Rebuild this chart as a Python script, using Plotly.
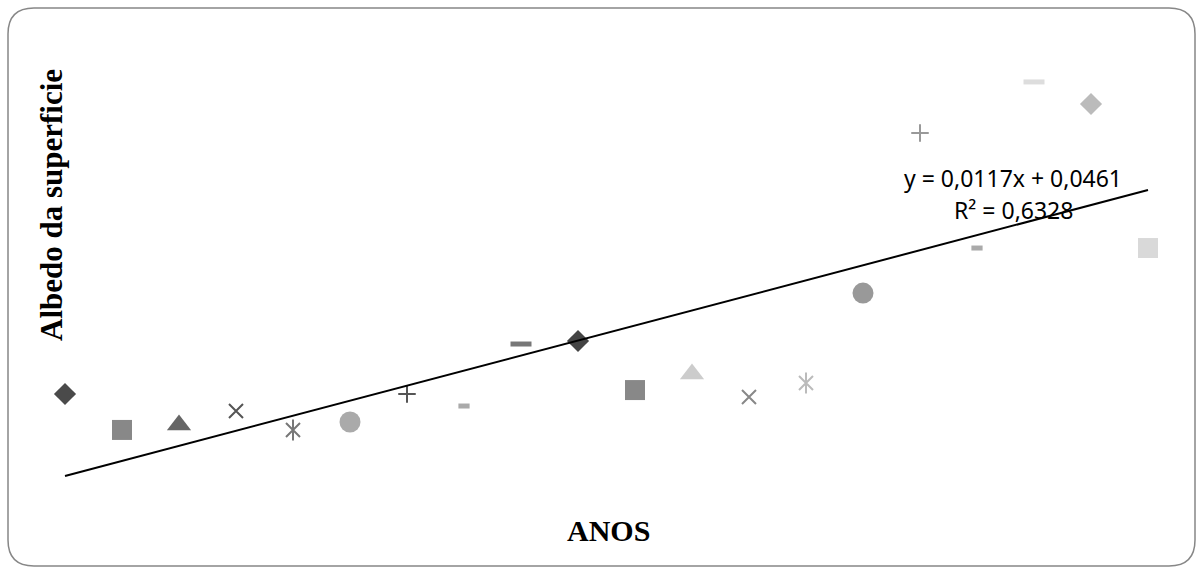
import plotly.graph_objects as go

W, H = 1202, 573

# ---- data ----
anos = list(range(1, 21))
albedo = [0.1215, 0.0936, 0.0974, 0.1083, 0.0936, 0.0998, 0.1215, 0.1122, 0.1604, 0.1627,
          0.1246, 0.1371, 0.1192, 0.1301, 0.2000, 0.3244, 0.2350, 0.3641, 0.3470, 0.2350]
marker_kind = ["diamond", "square", "triangle", "x", "star", "circle", "plus", "sdash", "ldash",
               "diamond", "square", "triangle", "x", "star", "circle", "plus", "sdash", "ldash",
               "diamond", "square"]
marker_color = ["#4a4a4a", "#888888", "#666666", "#555555", "#777777", "#aaaaaa", "#555555", "#aaaaaa",
                "#777777", "#444444", "#888888", "#cccccc", "#888888", "#bbbbbb", "#999999", "#999999",
                "#aaaaaa", "#dddddd", "#bbbbbb", "#d9d9d9"]
slope, intercept = 0.0117, 0.0461
eq_text = "y = 0,0117x + 0,0461"
r2_text = "R² = 0,6328"

fig = go.Figure()

filled = {"diamond": ("diamond", 17), "square": ("square", 20), "triangle": ("triangle-up", 21),
          "circle": ("circle", 21)}
lined = {"x": [("x-thin-open", 14, 2)], "plus": [("cross-thin-open", 12.5, 2)],
         "star": [("x-thin-open", 14, 2), ("line-ns-open", 15, 2)],
         "sdash": [("line-ew-open", 8, 5)], "ldash": [("line-ew-open", 15, 5)]}

for xv, yv, k, c in zip(anos, albedo, marker_kind, marker_color):
    if k in filled:
        sym, sz = filled[k]
        fig.add_trace(go.Scatter(x=[xv], y=[yv], mode="markers", showlegend=False,
                                 marker=dict(symbol=sym, size=sz, color=c, line=dict(width=0))))
    else:
        for sym, sz, lw in lined[k]:
            fig.add_trace(go.Scatter(x=[xv], y=[yv], mode="markers", showlegend=False,
                                     marker=dict(symbol=sym, size=sz, color=c,
                                                 line=dict(width=lw, color=c))))

# trendline
tx = [anos[0], anos[-1]]
ty = [slope * v + intercept for v in tx]
fig.add_trace(go.Scatter(x=tx, y=ty, mode="lines", showlegend=False,
                         line=dict(color="black", width=2)))

def px(xp):
    return xp / W

def py(yp):
    return 1 - yp / H

# rounded border
x0, y0, x1, y1, r = 8, 8, 1195, 566, 26
path = (f"M {px(x0+r)},{py(y0)} L {px(x1-r)},{py(y0)} "
        f"Q {px(x1)},{py(y0)} {px(x1)},{py(y0+r)} L {px(x1)},{py(y1-r)} "
        f"Q {px(x1)},{py(y1)} {px(x1-r)},{py(y1)} L {px(x0+r)},{py(y1)} "
        f"Q {px(x0)},{py(y1)} {px(x0)},{py(y1-r)} L {px(x0)},{py(y0+r)} "
        f"Q {px(x0)},{py(y0)} {px(x0+r)},{py(y0)} Z")
fig.add_shape(type="path", path=path, xref="paper", yref="paper",
              line=dict(color="#878787", width=1.5))

serif = "Liberation Serif, Times New Roman, serif"
fig.add_annotation(x=px(51), y=py(205), xref="paper", yref="paper", text="<b>Albedo da superficie</b>",
                   textangle=-90, showarrow=False, xanchor="center", yanchor="middle",
                   font=dict(family=serif, size=31, color="black"))
fig.add_annotation(x=px(608), y=py(530), xref="paper", yref="paper", text="<b>ANOS</b>",
                   showarrow=False, xanchor="center", yanchor="middle",
                   font=dict(family=serif, size=30, color="black"))

sans = "Noto Sans, Open Sans, sans-serif"
fig.add_annotation(x=px(1013), y=py(178), xref="paper", yref="paper", text=eq_text,
                   showarrow=False, xanchor="center", yanchor="middle",
                   font=dict(family=sans, size=23, color="black"))
fig.add_annotation(x=px(1013), y=py(210), xref="paper", yref="paper", text=r2_text,
                   showarrow=False, xanchor="center", yanchor="middle",
                   font=dict(family=sans, size=23, color="black"))

# axis ranges so that x=1 -> 65px, x=20 -> 1148px; trend line 476px at x=1, 190px at x=20
step = 57.0
xr = [1 - 65 / step, 1 + (W - 65) / step]
ypx_per = 1286.5
yr = [0.0578 - (H - 476) / ypx_per, 0.0578 + 476 / ypx_per]

fig.update_xaxes(range=xr, visible=False, showgrid=False, zeroline=False)
fig.update_yaxes(range=yr, visible=False, showgrid=False, zeroline=False)
fig.update_layout(width=W, height=H, margin=dict(l=0, r=0, t=0, b=0),
                  paper_bgcolor="white", plot_bgcolor="white")

fig.write_html("out.html")
